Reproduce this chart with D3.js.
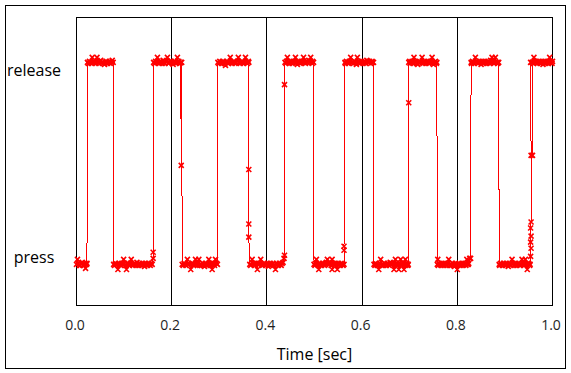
<!DOCTYPE html>
<html>
<head>
  <meta charset="UTF-8">
  <title>Press / Release</title>
  <script src="https://d3js.org/d3.v7.min.js"></script>
  <style>
    body {
      margin: 0;
      background: #fff;
      font-family: "Open Sans", Arial, sans-serif;
    }
    .frame {
      fill: none;
      stroke: black;
      stroke-width: 1;
      shape-rendering: crispEdges;
    }
    .grid {
      stroke: black;
      stroke-width: 1;
      shape-rendering: crispEdges;
    }
    .signal {
      fill: none;
      stroke: red;
      stroke-width: 1;
      shape-rendering: crispEdges;
    }
    .marker {
      fill: none;
      stroke: red;
      stroke-width: 1.6;
    }
  </style>
</head>
<body>
  <div id="chart"></div>
  <script>
    // state labels: 0 = press, 1 = release
    const stateLabels = ["press", "release"];
    const stateValues = [0, 1];
    const timeTicks = [0, 0.2, 0.4, 0.6, 0.8, 1.0];
    const gridTicks = [0.2, 0.4, 0.6, 0.8];

    // [time in ms, state]
    const samples = [
      [0, 0], [2, .025], [4, .005], [6, -.005], [8, -.005], [10, .005], [12, .01], [14, -.005], [16, 0], [18, .005], [19, -.02], [21, 0], [22, .005],
      [23, 1], [25, .995], [27, 1.005], [29, 1], [31, .995], [33, 1.025], [35, 1], [37, 1.005], [39, 1], [41, .995], [43, 1.025], [45, 1], [47, .995],
      [49, 1.005], [51, 1.01], [53, 1], [55, 1], [57, .995], [59, .99], [61, 1], [63, 1.005], [65, .995], [67, 1], [69, 1.005], [71, .995], [73, 1], [75, 1.01], [77, 1],
      [78, 0], [80, -.005], [82, .005], [84, 0], [87, -.025], [89, .005], [91, 0], [93, -.005], [95, .005], [97, 0], [99, .025], [101, .005], [103, -.005], [105, -.025],
      [107, .005], [109, 0], [111, -.005], [113, .005], [115, .025], [117, 0], [119, -.005], [121, .005], [123, 0], [125, -.005], [127, .01], [129, 0], [131, -.005], [133, .005], [135, 0],
      [137, -.005], [139, .005], [141, 0], [143, -.01], [145, .005], [147, 0], [149, -.005], [151, .005], [153, 0], [155, -.005], [157, .005], [159, 0], [161, .03], [161, .06],
      [162, 1], [164, .995], [166, 1.005], [168, 1], [170, 1.025], [172, 1], [174, .995], [176, 1.005], [178, 1], [180, .995], [182, 1.01], [184, 1], [186, .995], [188, 1.005], [191, 1.025],
      [193, .995], [195, 1], [197, 1.005], [199, 1.005], [201, 1], [203, .99], [205, 1.005], [207, 1], [209, .995], [212, 1.025], [213, 1], [215, 1.005], [217, .995], [219, 1], [220, .49],
      [221, 1], [222, 0], [224, -.005], [226, .005], [228, 0], [230, -.005], [233, .025], [235, .005], [237, 0], [240, -.025], [242, 0], [244, .005], [246, -.005],
      [248, 0], [250, .025], [252, .005], [254, -.005], [257, .025], [259, -.005], [261, 0], [263, -.005], [265, .005], [267, 0], [269, -.01], [271, .005], [273, 0], [275, -.005],
      [278, .025], [279, 0], [281, -.005], [283, .005], [285, -.025], [286, 0], [288, .005], [290, -.005], [292, .025], [294, .005], [296, 0],
      [297, 1], [299, .995], [301, 1.005], [303, 1], [305, .995], [307, 1.005], [309, 1], [311, .995], [313, .985], [315, 1], [317, 1.005], [319, .995], [321, 1], [323, 1.025],
      [325, 1], [327, .995], [329, 1], [331, 1.005], [333, .995], [335, 1], [338, 1.005], [340, 1.025], [342, 1], [344, .995], [346, 1], [348, 1.005], [350, .995], [352, 1], [355, 1.025],
      [357, 1], [359, .995], [361, 1.005], [362, 1], [362, .47], [362, .2], [362, .135],
      [364, 0], [366, -.005], [369, .025], [371, .005], [373, 0], [375, -.005], [377, .005], [380, -.025], [382, .005], [384, 0], [387, .025], [389, 0],
      [391, -.005], [393, 0], [395, .005], [397, -.005], [399, 0], [401, .005], [403, -.01], [405, 0], [407, .005], [409, -.005], [411, 0], [413, .005], [414, -.005], [418, -.025],
      [420, .005], [422, 0], [424, -.005], [426, .005], [428, 0], [430, -.005], [432, .005], [434, .01], [436, .03], [437, .045], [437, .89],
      [438, 1], [440, .995], [441, 1.005], [443, 1.025], [445, 1], [447, .995], [449, 1.005], [451, 1], [453, .995], [455, 1.005], [457, 1], [460, 1.025], [462, 1], [464, .99],
      [466, 1.005], [468, 1], [470, .995], [472, 1.005], [474, 1], [477, 1.025], [479, 1], [481, .995], [483, 1.005], [485, 1], [488, 1.01], [490, 1], [492, 1.025], [495, .995],
      [496, 1.005], [498, 1],
      [499, 0], [501, -.005], [502, .005], [504, .025], [506, 0], [508, -.005], [509, -.025], [511, .005], [513, 0], [515, -.005], [517, .005], [519, 0], [521, -.005],
      [523, .005], [525, .01], [527, .025], [529, .005], [531, 0], [533, .005], [535, -.005], [537, .025], [537, -.025], [539, .005], [541, 0], [543, -.005], [545, .005],
      [548, -.025], [550, .005], [552, 0], [554, -.005], [556, .005], [558, 0], [560, -.005], [562, 0], [562, .07], [562, .09],
      [564, 1], [565, .995], [567, 1.005], [569, 1], [571, .995], [573, 1.005], [576, 1.025], [578, 1], [580, 1], [582, .995], [584, 1.005], [586, 1], [588, .99], [590, 1.025],
      [592, 1.005], [594, 1], [596, .995], [598, 1.005], [600, 1], [602, .995], [604, 1.005], [606, 1], [608, .995], [610, 1.01], [612, 1.005], [614, 1], [616, 1.005], [618, .995], [621, 1.005],
      [622, 1], [624, 1],
      [625, 0], [627, -.005], [628, .005], [630, 0], [632, -.005], [635, -.025], [637, .005], [639, .025], [641, -.005], [643, 0], [645, -.005], [647, .005], [649, 0], [651, -.005],
      [653, .005], [655, 0], [657, -.005], [659, .01], [661, .005], [663, 0], [665, .005], [667, -.025], [668, 0], [670, .025], [672, .005], [673, -.005], [675, 0], [677, -.025], [679, .005], [681, .025],
      [682, -.005], [684, 0], [686, .005], [688, -.025], [689, 0], [691, .025], [692, -.005], [694, .005], [696, -.005], [697, 0], [698, .8],
      [698, 1], [700, 1.005], [701, .995], [703, 1], [705, 1.005], [707, .995], [709, 1.025], [711, 1.005], [713, 1], [715, .995], [717, .99], [719, 1], [721, 1.005], [723, 1], [726, 1.025],
      [728, .995], [730, 1], [732, 1.005], [734, .995], [736, 1], [738, 1.005], [740, .995], [742, 1], [744, 1.005], [747, 1.025], [748, 1], [750, .99], [752, 1], [754, 1.005], [756, .995], [757, 1],
      [758, 0], [759, .025], [760, -.005], [762, .005], [764, 0], [766, -.005], [768, .005], [770, 0], [772, -.005], [774, .005], [776, 0], [778, -.005], [780, .005], [782, .025],
      [784, -.005], [786, 0], [788, -.005], [790, .005], [792, 0], [794, -.01], [796, .005], [797, 0], [800, -.025], [802, 0], [804, .005], [806, -.005], [808, 0], [810, .005], [812, -.005],
      [814, 0], [816, .005], [818, -.005], [820, .025], [821, 0], [823, 0], [824, .005], [826, .03], [828, .03],
      [829, 1], [830, .995], [832, 1.005], [833, 1], [835, .995], [838, 1.025], [840, 1.005], [842, 1], [844, .995], [846, 1.005], [848, 1], [850, .99], [852, 1.005], [854, 1],
      [856, .995], [858, 1.005], [860, 1], [862, .995], [864, 1.005], [866, 1], [868, .995], [870, 1.01], [871, 1], [873, 1.025], [875, 1.005], [877, .995], [880, 1.025], [881, 1], [884, 1],
      [885, .995], [887, 1],
      [888, 0], [889, -.005], [891, .005], [893, 0], [895, -.005], [897, .005], [899, 0], [901, -.005], [903, .005], [905, 0], [907, -.01], [909, .005], [911, 0], [913, -.005], [915, .025],
      [917, .005], [919, -.005], [921, 0], [923, .005], [925, -.005], [927, 0], [929, .005], [931, -.005], [933, 0], [936, .025], [937, .005], [939, 0], [941, -.005], [943, .025], [945, 0], [947, -.025],
      [948, .005], [950, .005], [952, -.005], [953, 0], [954, .04], [955, .08], [954, .11], [955, .14], [954, .18], [955, .21],
      [955, .54], [954, 1], [957, 1], [958, .54],
      [958, 1], [960, .995], [961, 1.025], [962, 1.005], [964, 1], [966, 1.005], [968, .995], [970, 1], [972, 1.005], [974, .995], [976, 1], [978, 1.005], [980, .99], [982, 1], [984, 1.005],
      [986, .995], [988, 1], [990, 1.005], [991, .995], [993, 1], [994, 1.025], [996, 1.005], [997, 1], [999, .995], [1000, 1.005]
    ];

    const width = 571;
    const height = 373;
    const plot = { left: 76.5, right: 552.5, top: 17.5, bottom: 305.5 };

    const x = d3.scaleLinear()
      .domain([0, 1])
      .range([plot.left, plot.right]);

    const y = d3.scaleLinear()
      .domain([-0.2035, 1.2223])
      .range([plot.bottom, plot.top]);

    const svg = d3.select("#chart")
      .append("svg")
      .attr("width", width)
      .attr("height", height);

    // outer frame
    svg.append("rect")
      .attr("class", "frame")
      .attr("x", 5.5)
      .attr("y", 5.5)
      .attr("width", 560)
      .attr("height", 363);

    // vertical grid lines
    svg.selectAll(".grid")
      .data(gridTicks)
      .enter()
      .append("line")
      .attr("class", "grid")
      .attr("x1", d => x(d))
      .attr("x2", d => x(d))
      .attr("y1", plot.top)
      .attr("y2", plot.bottom);

    // plot frame
    svg.append("rect")
      .attr("class", "frame")
      .attr("x", plot.left)
      .attr("y", plot.top)
      .attr("width", plot.right - plot.left)
      .attr("height", plot.bottom - plot.top);

    // x axis labels (no tick marks)
    const xAxis = d3.axisBottom(x)
      .tickValues(timeTicks)
      .tickFormat(d3.format(".1f"))
      .tickSize(0);

    const gx = svg.append("g")
      .attr("transform", `translate(0, ${plot.bottom})`)
      .call(xAxis);
    gx.select(".domain").remove();
    gx.selectAll("text")
      .attr("y", 24.5)
      .attr("dy", 0)
      .attr("dx", -2)
      .attr("fill", "#1e1e1e")
      .style("font-family", "'Open Sans', Arial, sans-serif")
      .style("font-size", "14px");

    svg.append("text")
      .attr("x", (plot.left + plot.right) / 2)
      .attr("y", 360)
      .attr("text-anchor", "middle")
      .style("font-size", "16px")
      .attr("fill", "#000")
      .text("Time [sec]");

    // state labels on the left
    svg.selectAll(".state-label")
      .data(stateValues)
      .enter()
      .append("text")
      .attr("class", "state-label")
      .attr("x", 34)
      .attr("y", d => y(d) + (d === 1 ? 13.3 : -1))
      .attr("text-anchor", "middle")
      .style("font-size", "16px")
      .attr("fill", "#000")
      .text((d, i) => stateLabels[i]);

    // signal line
    const line = d3.line()
      .x(d => x(d[0] / 1000))
      .y(d => y(d[1]));

    svg.append("path")
      .datum(samples)
      .attr("class", "signal")
      .attr("d", line);

    // cross markers
    svg.selectAll(".marker")
      .data(samples)
      .enter()
      .append("path")
      .attr("class", "marker")
      .attr("transform", d => `translate(${x(d[0] / 1000)}, ${y(d[1])})`)
      .attr("d", "M-2.5,-2.5L2.5,2.5M-2.5,2.5L2.5,-2.5");
  </script>
</body>
</html>
